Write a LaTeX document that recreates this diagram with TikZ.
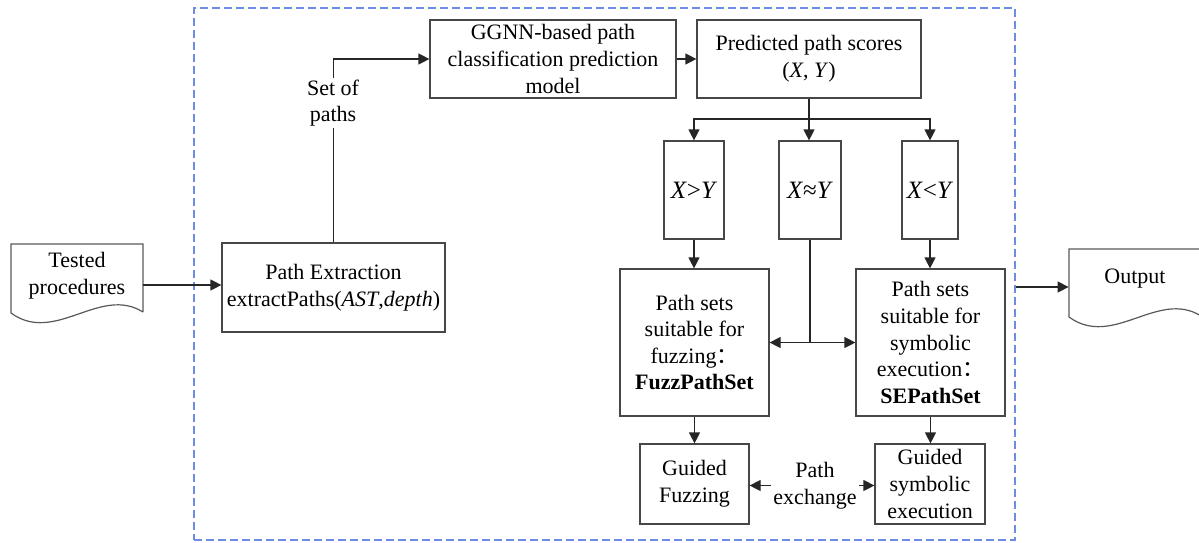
\documentclass[tikz,border=0pt]{standalone}
\usepackage{fontspec}
\setmainfont{Liberation Serif}
\newfontfamily\cjk{Noto Sans CJK SC}
\usetikzlibrary{arrows.meta,fit}
\begin{document}
\begin{tikzpicture}[x=0.5pt,y=-0.5pt,
  txt/.style={font=\fontsize{11}{13.3}\selectfont, align=center, text=black},
  box/.style={txt, draw=black!72, line width=0.6pt, inner sep=0pt},
  cmp/.style={box, font=\fontsize{12.5}{14}\selectfont},
  ghost/.style={inner sep=0pt, draw=none},
  arr/.style={-{Triangle[length=5.5pt,width=5.5pt]}, draw=black!85, line width=0.6pt},
  ln/.style={draw=black!85, line width=0.6pt},
  doc/.style={draw=black!65, line width=0.6pt}]
\useasboundingbox (0,0) rectangle (1199,542);
% dashed frame
\node[ghost, fit={(194,8)(1015,540)}, draw={rgb,255:red,110;green,140;blue,225}, dashed, dash pattern=on 4pt off 2pt, line width=0.6pt] (frame) {};
% documents
\draw[doc] (143,312) -- (143,244) -- (11,244) -- (11,313) .. controls (55,345) and (100,285) .. (143,312);
\node[ghost, fit={(11,244)(143,326)}] (tp) {};
\node[txt] (tpt) at (77,275.5) {Tested\\procedures};
\draw[doc] (1215,249) -- (1069,249) -- (1069,317) .. controls (1113,349) and (1158,289) .. (1201,316) -- (1215,310);
\node[ghost, fit={(1069,249)(1201,325)}] (out) {};
\node[txt] (outt) at (1135,279) {Output};
% boxes
\node[box, minimum width=111.5pt, minimum height=44.5pt] (pe) at (333.5,287.5) {Path Extraction\\extractPaths(\textit{AST},\textit{depth})};
\node[box, minimum width=123pt, minimum height=39pt] (gg) at (553,59) {GGNN-based path\\classification prediction\\model};
\node[box, minimum width=112pt, minimum height=39pt] (pr) at (809,59) {Predicted path scores\\(\textit{X}, \textit{Y})};
\node[cmp, minimum width=30pt, minimum height=49pt] (gt) at (694,190) {\textit{X}>\textit{Y}};
\node[cmp, minimum width=31pt, minimum height=49pt] (ap) at (810,190) {\textit{X}≈\textit{Y}};
\node[cmp, minimum width=28pt, minimum height=49pt] (lt) at (930,190) {\textit{X}<\textit{Y}};
\node[box, minimum width=74.5pt, minimum height=73.5pt] (fz) at (694.5,342.5) {Path sets\\suitable for\\fuzzing{\cjk ：}\\\textbf{FuzzPathSet}};
\node[box, minimum width=74.5pt, minimum height=73.5pt] (se) at (930.5,342.5) {Path sets\\suitable for\\symbolic\\execution{\cjk ：}\\\textbf{SEPathSet}};
\node[box, minimum width=54.5pt, minimum height=40pt] (gf) at (694.5,484) {Guided\\Fuzzing};
\node[box, minimum width=55pt, minimum height=40pt] (gs) at (930,484) {Guided\\symbolic\\execution};
\node[txt, inner sep=1pt] (px) at (815,485.5) {Path\\exchange};
% connectors
\draw[arr] (tp.east) -- (tp.east -| pe.west);
\draw[arr] (pe.north) |- (gg.west);
\node[txt, fill=white, inner sep=1pt] (sop) at (333,103) {Set of\\paths};
\draw[arr] (gg.east) -- (pr.west);
\coordinate (br) at (809,119);
\draw[ln] (pr.south) -- (br);
\draw[arr] (br) -| (gt.north);
\draw[arr] (br) -| (lt.north);
\draw[arr] (br) -- (br |- ap.north);
\draw[arr] (gt.south) -- (gt.south |- fz.north);
\draw[arr] (lt.south) -- (lt.south |- se.north);
\coordinate (j) at (ap.south |- fz.east);
\draw[ln] (ap.south) -- (j);
\draw[arr] (j) -- (fz.east);
\draw[arr] (j) -- (se.west);
\draw[arr] (fz.south) -- (fz.south |- gf.north);
\draw[arr] (se.south) -- (se.south |- gs.north);
\draw[arr] (px.west) -- (px.west -| gf.east);
\draw[arr] (px.east) -- (px.east -| gs.west);
\draw[arr] (frame.east |- out.west) -- (out.west);
\end{tikzpicture}
\end{document}
